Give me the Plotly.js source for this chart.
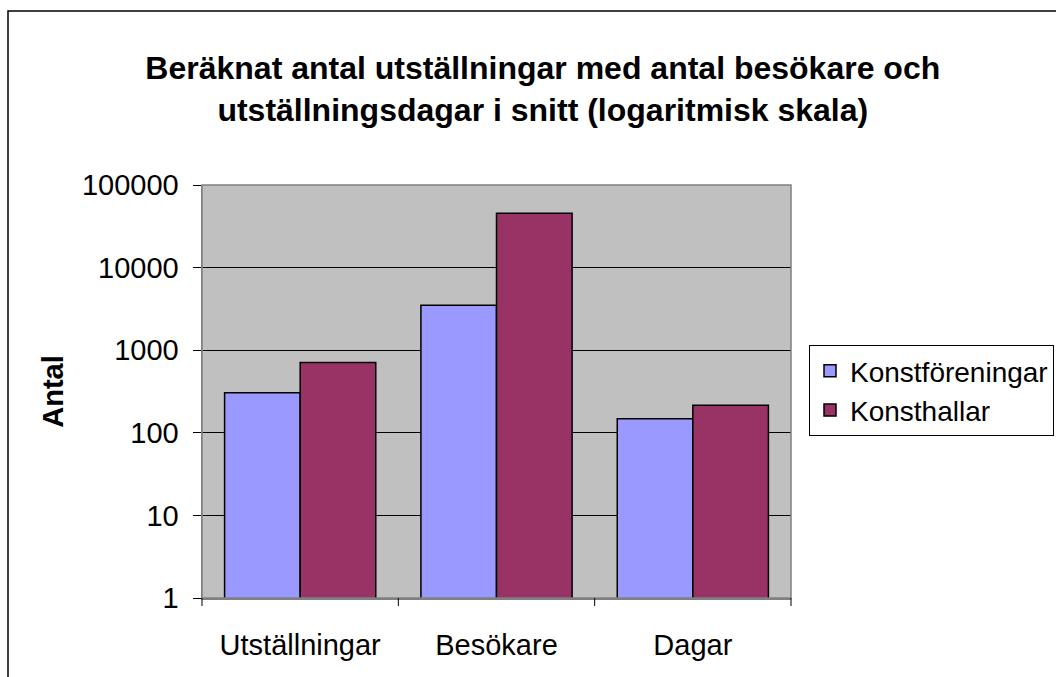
<!DOCTYPE html>
<html>
<head>
<meta charset="utf-8">
<script src="https://cdn.plot.ly/plotly-3.0.1.min.js"></script>
<style>
html,body{margin:0;padding:0;background:#fff;}
#chart{width:1056px;height:677px;}
</style>
</head>
<body>
<div id="chart"></div>
<script>
const categories = ["Utställningar", "Besökare", "Dagar"];
const seriesNames = ["Konstföreningar", "Konsthallar"];
const konstforeningar = [305, 3500, 148];
const konsthallar = [710, 45400, 216];
const yTickValues = [1, 10, 100, 1000, 10000, 100000];
const yTickLabels = ["1", "10", "100", "1000", "10000", "100000"];

const L = 202, R = 791, T = 185, B = 598;
const W = 1056, H = 677;
const pw = R - L, ph = B - T;
function px(x){ return (x - L) / pw; }
function py(y){ return (B - y) / ph; }
const FONT = "Liberation Sans, Arial, sans-serif";
const FS = 29;

const traces = [
  {type:"bar", name:seriesNames[0], x:categories, y:konstforeningar,
   marker:{color:"#9999FF", line:{color:"#000", width:1.5}}},
  {type:"bar", name:seriesNames[1], x:categories, y:konsthallar,
   marker:{color:"#993366", line:{color:"#000", width:1.5}}}
];

const layout = {
  width: W, height: H,
  margin:{l:L, r:W-R, t:T, b:H-B, pad:0, autoexpand:false},
  paper_bgcolor:"#ffffff",
  plot_bgcolor:"#C0C0C0",
  font:{family:FONT, color:"#000", size:FS},
  title:{text:"Beräknat antal utställningar med antal besökare och<br>utställningsdagar i snitt (logaritmisk skala)",
    font:{size:32, family:FONT, weight:"bold", color:"#000"},
    x:0.514, xanchor:"center", y:1-79/H, yanchor:"middle"},
  barmode:"group",
  bargap:0.23,
  bargroupgap:0,
  showlegend:true,
  legend:{x:px(809), y:py(345), xanchor:"left", yanchor:"top",
    bordercolor:"#000", borderwidth:1, bgcolor:"#fff",
    font:{size:28, family:FONT},
    tracegroupgap:0, itemwidth:30},
  xaxis:{type:"category", showgrid:false, zeroline:false,
    showline:true, linecolor:"#808080", linewidth:1.5,
    ticks:"", tickfont:{size:FS, family:FONT}, ticklabelstandoff:21, mirror:false},
  yaxis:{type:"log", range:[0,5], tickvals:yTickValues, ticktext:yTickLabels,
    showgrid:true, gridcolor:"#000", gridwidth:1,
    showline:true, linecolor:"#808080", linewidth:1.5,
    ticks:"outside", ticklen:8, tickcolor:"#000", tickfont:{size:FS, family:FONT},
    ticklabelstandoff:8,
    zeroline:false,
    title:{text:"Antal", font:{size:FS, weight:"bold", family:FONT}, standoff:10}},
  shapes:[
    {type:"rect", xref:"paper", yref:"paper", x0:px(8), x1:px(1100), y0:py(720), y1:py(11),
     line:{color:"#000", width:1.5}, fillcolor:"rgba(0,0,0,0)", layer:"below"},
    {type:"rect", xref:"paper", yref:"paper", x0:0, x1:1, y0:0, y1:1,
     line:{color:"#808080", width:1.5}, fillcolor:"rgba(0,0,0,0)", layer:"above"},
    {type:"line", xref:"paper", yref:"paper", x0:0, x1:0, y0:0, y1:-8/ph, line:{color:"#000", width:1}},
    {type:"line", xref:"paper", yref:"paper", x0:1/3, x1:1/3, y0:0, y1:-8/ph, line:{color:"#000", width:1}},
    {type:"line", xref:"paper", yref:"paper", x0:2/3, x1:2/3, y0:0, y1:-8/ph, line:{color:"#000", width:1}},
    {type:"line", xref:"paper", yref:"paper", x0:1, x1:1, y0:0, y1:-8/ph, line:{color:"#000", width:1}}
  ]
};

Plotly.newPlot("chart", traces, layout, {displayModeBar:false, staticPlot:true});
</script>
</body>
</html>
